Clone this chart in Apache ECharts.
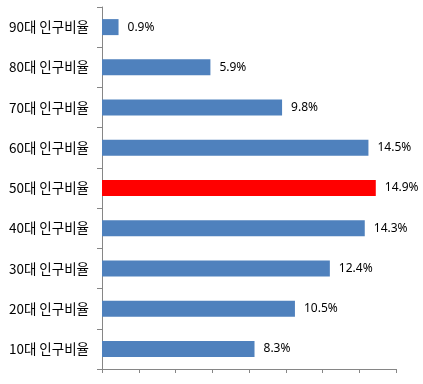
<!DOCTYPE html>
<html><head><meta charset="utf-8">
<script src="https://cdn.jsdelivr.net/npm/echarts@6/dist/echarts.min.js"></script>
<style>html,body{margin:0;padding:0;background:#fff}#c{width:423px;height:384px}</style>
</head><body><div id="c"></div>
<script>
const categories = ['10대 인구비율','20대 인구비율','30대 인구비율','40대 인구비율','50대 인구비율','60대 인구비율','70대 인구비율','80대 인구비율','90대 인구비율'];
const values = [8.3, 10.5, 12.4, 14.3, 14.9, 14.5, 9.8, 5.9, 0.9];
const highlight = '50대 인구비율';
const chart = echarts.init(document.getElementById('c'), null, {renderer:'canvas'});
chart.setOption({
  animation:false,
  grid:{left:102, top:7, right:27, bottom:15, containLabel:false},
  xAxis:{type:'value', min:0, max:16, interval:2,
    axisLine:{show:true, lineStyle:{color:'#868686'}},
    axisTick:{show:true, length:4, lineStyle:{color:'#868686'}},
    axisLabel:{show:false}, splitLine:{show:false}},
  yAxis:{type:'category', data:categories,
    axisLine:{show:true, lineStyle:{color:'#868686'}},
    axisTick:{show:true, length:5, lineStyle:{color:'#868686'}},
    axisLabel:{color:'#000', fontSize:13.5, margin:13, fontFamily:'"Noto Sans CJK KR", sans-serif'}},
  series:[{type:'bar', barWidth:16,
    data: values.map((v,i)=>({value:v, itemStyle:{color: categories[i]===highlight ? '#ff0000' : '#4f81bd'}})),
    label:{show:true, position:'right', distance:9, color:'#000', fontSize:12,
      fontFamily:'"Noto Sans", sans-serif', formatter: p => p.value.toFixed(1)+'%'}}]
});
</script></body></html>
